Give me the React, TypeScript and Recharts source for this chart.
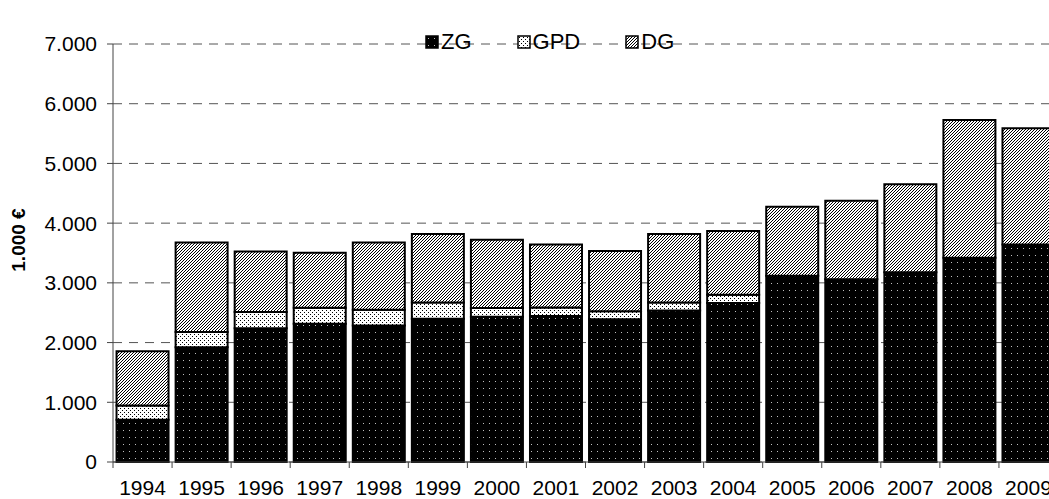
import { BarChart, Bar, XAxis, YAxis, CartesianGrid, Legend } from 'recharts'

const YEARS = ['1994', '1995', '1996', '1997', '1998', '1999', '2000', '2001', '2002', '2003', '2004', '2005', '2006', '2007', '2008', '2009']
const ZG = [708, 1921, 2238, 2317, 2286, 2397, 2434, 2444, 2392, 2539, 2661, 3120, 3062, 3178, 3421, 3643]
const GPD = [237, 254, 275, 265, 264, 275, 143, 143, 131, 133, 138, 0, 0, 0, 0, 0]
const DG = [908, 1499, 1014, 923, 1124, 1145, 1145, 1056, 1009, 1145, 1071, 1156, 1315, 1473, 2307, 1948]
const Y_TICKS = [0, 1000, 2000, 3000, 4000, 5000, 6000, 7000]

const data = YEARS.map((year, i) => ({ year, ZG: ZG[i], GPD: GPD[i], DG: DG[i] }))

const W = 1070
const H = 499
const M = { top: 20, right: 12, left: 13, bottom: 0 }
const Y_AXIS_W = 100
const HALF_BAND = (W - M.left - M.right - Y_AXIS_W) / YEARS.length / 2
const FONT = '"Liberation Sans", Arial, sans-serif'

const SERIES = [
  { key: 'ZG', fill: 'url(#pZG)' },
  { key: 'GPD', fill: 'url(#pGPD)' },
  { key: 'DG', fill: 'url(#pDG)' },
]

const fmt = (v: number) => String(v).replace(/\B(?=(\d{3})+(?!\d))/g, '.')

function XTick({ x, y, payload }: any) {
  return (
    <g>
      <line x1={x - HALF_BAND} x2={x - HALF_BAND} y1={y} y2={y + 6} stroke="#444" strokeWidth={1} />
      <text x={x} y={y + 33} textAnchor="middle" fontSize={21} fontFamily={FONT} fill="#000">
        {payload.value}
      </text>
    </g>
  )
}

function LegendBox() {
  return (
    <div style={{ display: 'flex', gap: 45, fontFamily: FONT, fontSize: 22, lineHeight: '24px' }}>
      {SERIES.map((s) => (
        <div key={s.key} style={{ display: 'flex', alignItems: 'center' }}>
          <svg width={14} height={14} style={{ marginRight: 2 }}>
            <rect x={1} y={1} width={12} height={12} fill={s.fill} stroke="#000" strokeWidth={1.5} />
          </svg>
          <span>{s.key}</span>
        </div>
      ))}
    </div>
  )
}

export default function App() {
  return (
    <div style={{ position: 'absolute', left: 0, top: 0, width: 1049, height: 499, overflow: 'hidden', background: '#fff' }}>
      <BarChart width={W} height={H} data={data} margin={M} barCategoryGap="6%">
        <defs>
          <pattern id="pZG" width={6} height={7} patternUnits="userSpaceOnUse">
            <rect width={6} height={7} fill="#000" />
            <rect x={3} y={3} width={1} height={1} fill="#fff" opacity={0.75} />
          </pattern>
          <pattern id="pGPD" width={4} height={4} patternUnits="userSpaceOnUse">
            <rect width={4} height={4} fill="#fff" />
            <rect x={0} y={0} width={1} height={1} fill="#000" />
            <rect x={2} y={2} width={1} height={1} fill="#000" />
          </pattern>
          <pattern id="pDG" width={3} height={3} patternUnits="userSpaceOnUse">
            <rect width={3} height={3} fill="#fff" />
            <path d="M-1,1 L1,-1 M0,3 L3,0 M2,4 L4,2" stroke="#000" strokeWidth={1} />
          </pattern>
        </defs>
        <CartesianGrid vertical={false} stroke="#555" strokeDasharray="9 7" />
        <XAxis
          dataKey="year"
          height={37}
          tickLine={false}
          tickSize={0}
          tickMargin={0}
          axisLine={{ stroke: '#444' }}
          tick={<XTick />}
          interval={0}
        />
        <YAxis
          width={Y_AXIS_W}
          domain={[0, 7000]}
          ticks={Y_TICKS}
          tickFormatter={fmt}
          tickSize={6}
          tickMargin={10}
          axisLine={{ stroke: '#444' }}
          tickLine={{ stroke: '#444' }}
          tick={{ fontSize: 21, fontFamily: FONT, fill: '#000' }}
          label={{
            content: () => (
              <text
                x={25}
                y={240}
                transform="rotate(-90 25 240)"
                textAnchor="middle"
                fontSize={19}
                fontWeight="bold"
                fontFamily={FONT}
                fill="#000"
              >
                1.000 €
              </text>
            ),
          }}
        />
        <Legend
          verticalAlign="top"
          content={<LegendBox />}
          wrapperStyle={{ position: 'absolute', top: 30, left: 425, width: 320 }}
        />
        {SERIES.map((s) => (
          <Bar key={s.key} dataKey={s.key} stackId="a" fill={s.fill} stroke="#000" strokeWidth={2} isAnimationActive={false} />
        ))}
      </BarChart>
    </div>
  )
}
